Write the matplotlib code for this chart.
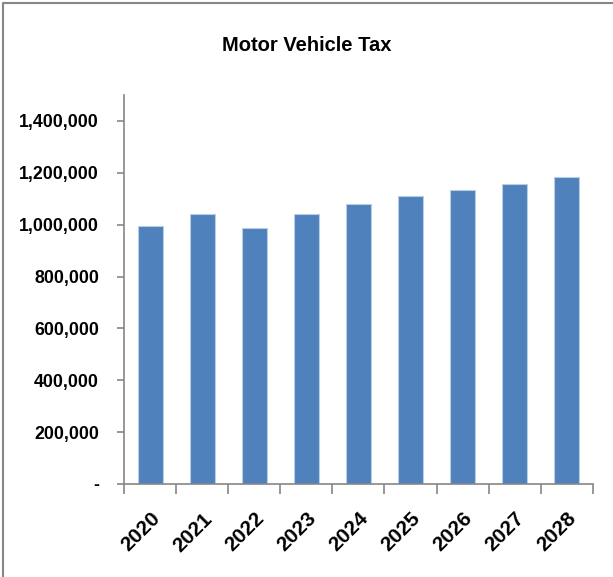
import matplotlib
matplotlib.use("Agg")
import matplotlib.pyplot as plt
from matplotlib.ticker import FuncFormatter
from matplotlib.lines import Line2D

years = ["2020", "2021", "2022", "2023", "2024", "2025", "2026", "2027", "2028"]
tax = [993000, 1042000, 988000, 1040000, 1081000, 1110000, 1133000, 1156000, 1182000]

plt.rcParams["font.family"] = ["Liberation Sans", "DejaVu Sans"]
plt.rcParams["font.weight"] = "bold"

fig = plt.figure(figsize=(6.13, 5.77), dpi=100)
ax = fig.add_axes([0.2023, 0.1612, 0.7647, 0.6742])

x = range(len(years))
ax.bar(x, tax, width=0.48, color="#4F81BD", edgecolor="#B9CDE5", linewidth=0.8, zorder=2)

ax.set_xlim(-0.5, len(years) - 0.5)
ax.set_ylim(0, 1500000)
ax.set_yticks(range(0, 1400001, 200000))
ax.yaxis.set_major_formatter(FuncFormatter(lambda v, p: "-" if v == 0 else f"{int(v):,}"))

# ticks between categories on the x axis, labels under each bar
ax.set_xticks([i - 0.5 for i in range(len(years) + 1)])
ax.set_xticklabels([])
ax.set_xticks(list(x), minor=True)
ax.set_xticklabels(years, minor=True, rotation=45, ha="right", va="top",
                   rotation_mode="anchor", fontsize=15, fontweight="bold")
ax.tick_params(axis="x", which="minor", length=0, pad=18)
ax.tick_params(axis="x", which="major", length=7, color="#868686", width=1.2)
ax.tick_params(axis="y", length=5, color="#868686", width=1.2, labelsize=12.8, pad=13)
for lbl in ax.get_yticklabels():
    lbl.set_fontweight("bold")

for side in ["top", "right"]:
    ax.spines[side].set_visible(False)
for side in ["left", "bottom"]:
    ax.spines[side].set_color("#868686")
    ax.spines[side].set_linewidth(1.2)

fig.text(0.5, 0.922, "Motor Vehicle Tax", ha="center", va="center", fontsize=14.5, fontweight="bold")

# chart area outline (left and top edges)
fig.lines.append(Line2D([0.005, 0.005, 1.0], [0.0, 0.995, 0.995], transform=fig.transFigure,
                        color="#868686", linewidth=1.5))

fig.savefig("out.png", dpi=100)
